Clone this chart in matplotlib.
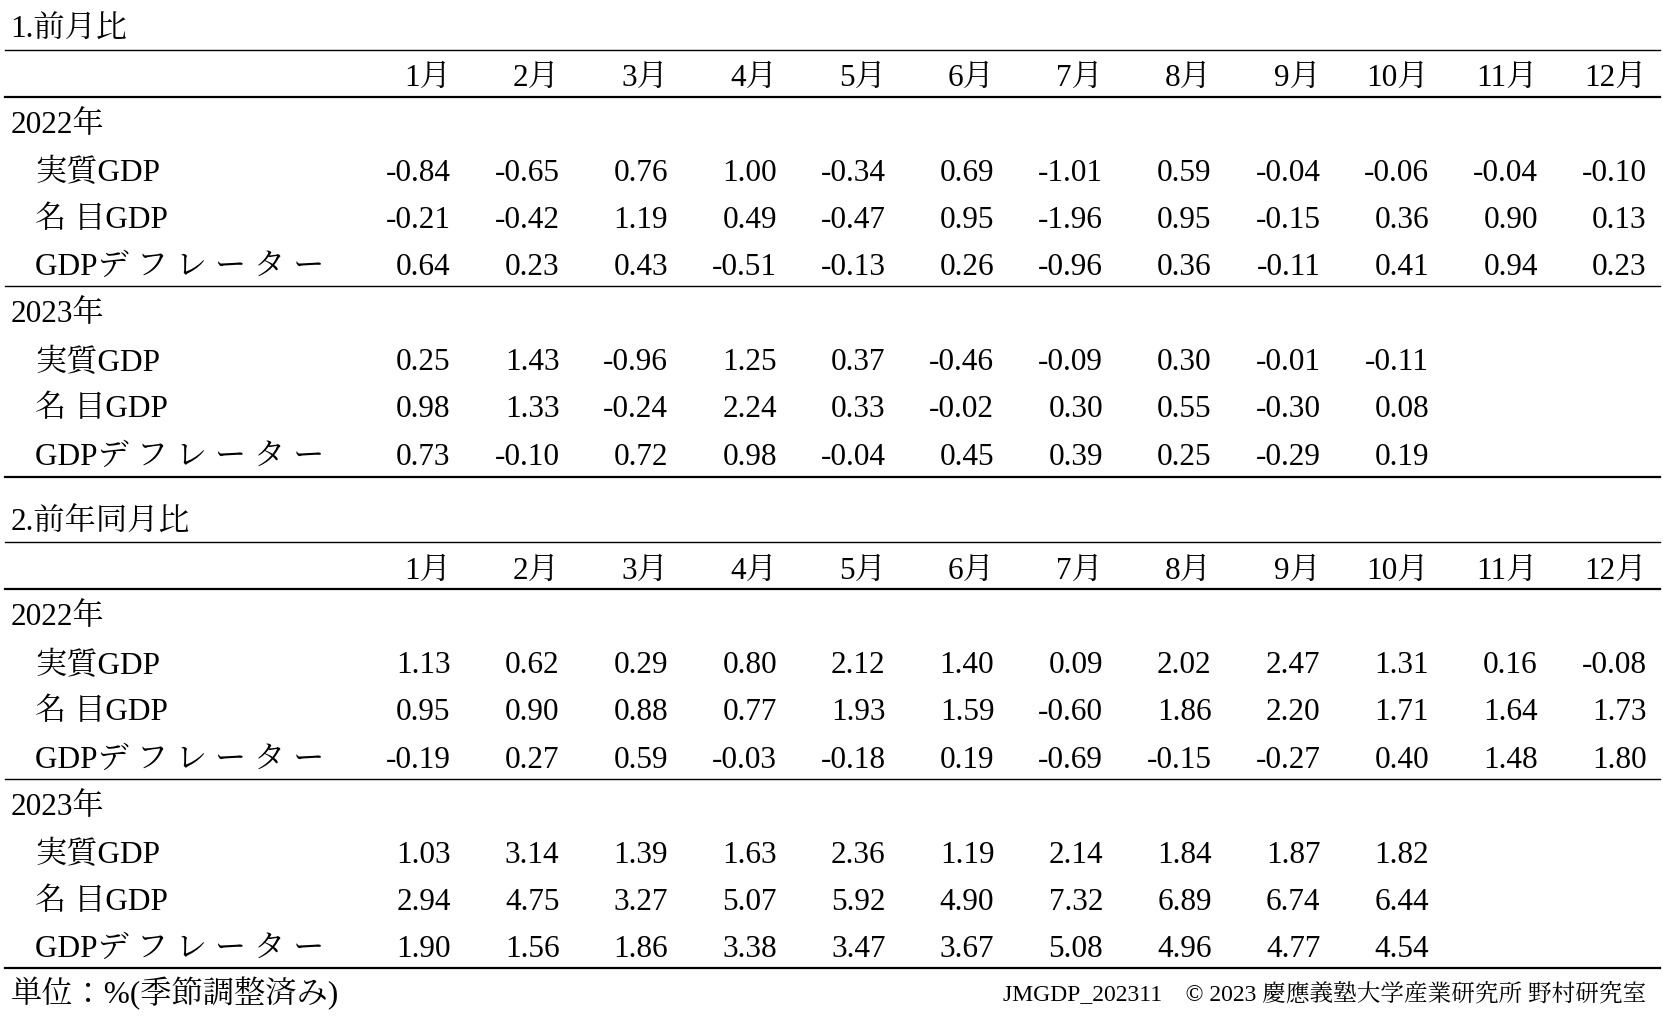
import matplotlib.pyplot as plt

months = ["1月", "2月", "3月", "4月", "5月", "6月", "7月", "8月", "9月", "10月", "11月", "12月"]
row_labels = ["実質GDP", "名 目GDP", "GDPデ フ レ ー タ ー"]

# 1. 前月比
mom_2022_real = [-0.84, -0.65, 0.76, 1.00, -0.34, 0.69, -1.01, 0.59, -0.04, -0.06, -0.04, -0.10]
mom_2022_nom = [-0.21, -0.42, 1.19, 0.49, -0.47, 0.95, -1.96, 0.95, -0.15, 0.36, 0.90, 0.13]
mom_2022_def = [0.64, 0.23, 0.43, -0.51, -0.13, 0.26, -0.96, 0.36, -0.11, 0.41, 0.94, 0.23]
mom_2023_real = [0.25, 1.43, -0.96, 1.25, 0.37, -0.46, -0.09, 0.30, -0.01, -0.11]
mom_2023_nom = [0.98, 1.33, -0.24, 2.24, 0.33, -0.02, 0.30, 0.55, -0.30, 0.08]
mom_2023_def = [0.73, -0.10, 0.72, 0.98, -0.04, 0.45, 0.39, 0.25, -0.29, 0.19]

# 2. 前年同月比
yoy_2022_real = [1.13, 0.62, 0.29, 0.80, 2.12, 1.40, 0.09, 2.02, 2.47, 1.31, 0.16, -0.08]
yoy_2022_nom = [0.95, 0.90, 0.88, 0.77, 1.93, 1.59, -0.60, 1.86, 2.20, 1.71, 1.64, 1.73]
yoy_2022_def = [-0.19, 0.27, 0.59, -0.03, -0.18, 0.19, -0.69, -0.15, -0.27, 0.40, 1.48, 1.80]
yoy_2023_real = [1.03, 3.14, 1.39, 1.63, 2.36, 1.19, 2.14, 1.84, 1.87, 1.82]
yoy_2023_nom = [2.94, 4.75, 3.27, 5.07, 5.92, 4.90, 7.32, 6.89, 6.74, 6.44]
yoy_2023_def = [1.90, 1.56, 1.86, 3.38, 3.47, 3.67, 5.08, 4.96, 4.77, 4.54]

plt.rcParams["font.family"] = ["Liberation Serif", "Noto Serif CJK JP", "Noto Sans CJK JP"]
FS = 22.5

fig = plt.figure(figsize=(16.63, 10.17), dpi=100)
ax = fig.add_axes([0, 0, 1, 1])
ax.set_xlim(0, 1568)
ax.set_ylim(958, 0)
ax.axis("off")

col_right = [425 + i * 102.5 for i in range(12)]
X0, X1 = 5, 1565


def hline(y, lw=1.0, style="-"):
    ax.plot([X0, X1], [y, y], color="black", lw=lw, ls=style)


def txt(x, y, s, ha="left"):
    ax.text(x, y + 3, s, ha=ha, va="center", fontsize=FS)


def block(y_top, title, years, data):
    txt(10, y_top - 22, title)
    hline(y_top)
    for x, m in zip(col_right, months):
        txt(x, y_top + 24, m, ha="right")
    hline(y_top + 44, lw=1.6)
    y = y_top + 68
    for k, (year, rows) in enumerate(zip(years, data)):
        txt(10, y, year)
        y += 45
        for lab, vals in zip(row_labels, rows):
            txt(33, y, lab)
            for x, v in zip(col_right, vals):
                txt(x, y, f"{v:.2f}", ha="right")
            y += 44.5
        if k == 0:
            hline(y - 24, lw=1.0)
    return y


block(47, "1.前月比", ["2022年", "2023年"],
      [[mom_2022_real, mom_2022_nom, mom_2022_def],
       [mom_2023_real, mom_2023_nom, mom_2023_def]])
hline(449, lw=1.6)
block(511, "2.前年同月比", ["2022年", "2023年"],
      [[yoy_2022_real, yoy_2022_nom, yoy_2022_def],
       [yoy_2023_real, yoy_2023_nom, yoy_2023_def]])
hline(912, lw=1.6)

txt(10, 933, "単位：%(季節調整済み)")
ax.text(1552, 937, "JMGDP_202311    © 2023 慶應義塾大学産業研究所 野村研究室",
        ha="right", va="center", fontsize=17)

fig.savefig("out.png", dpi=100)
